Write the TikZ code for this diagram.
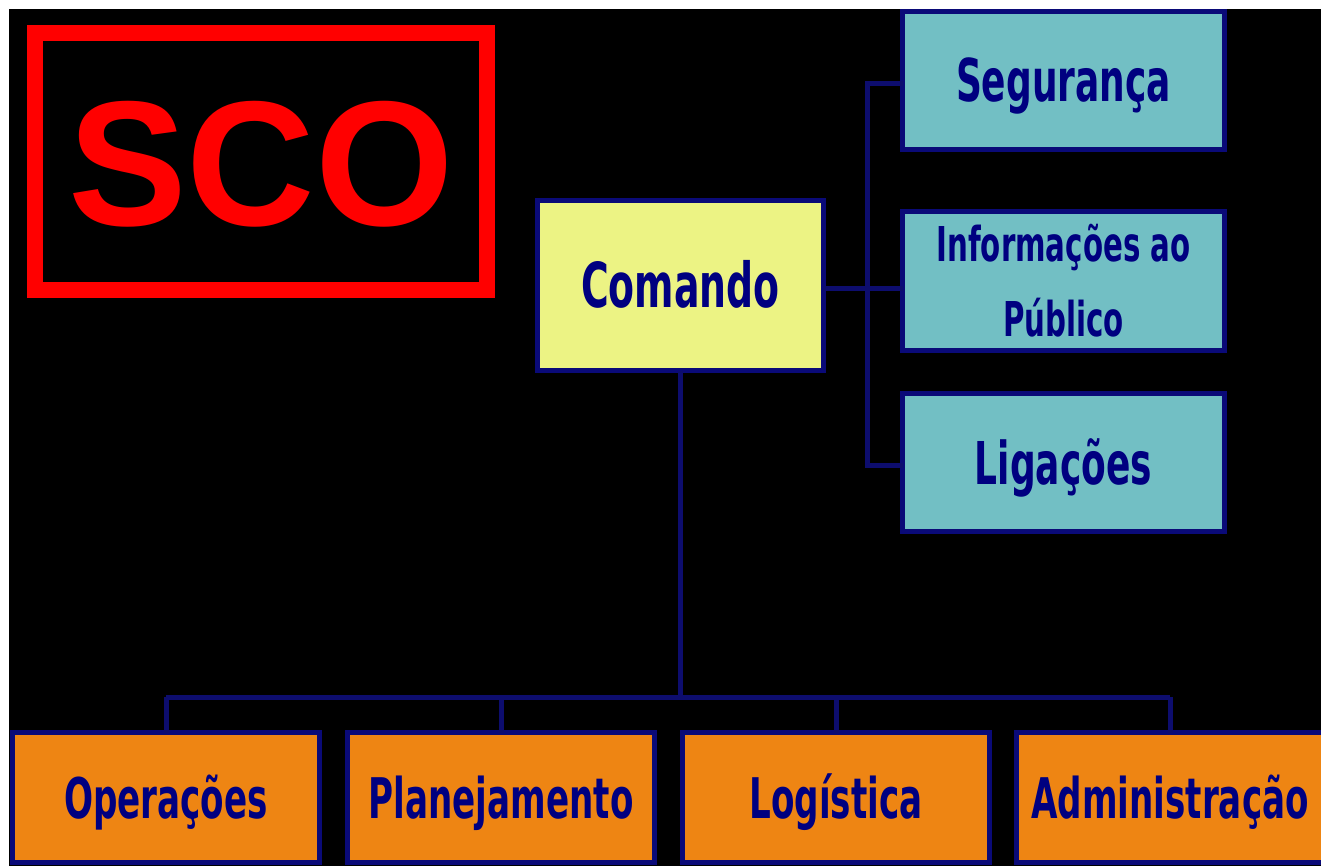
\documentclass[tikz,border=0pt]{standalone}
\usepackage{fontspec}
\setmainfont{DejaVu Sans}
\newfontfamily\boxfont{DejaVu Sans}[FakeStretch=0.61]
\newfontfamily\scofont{Liberation Sans}
\definecolor{navytext}{HTML}{000080}
\definecolor{bordercol}{HTML}{0A0A78}
\definecolor{linecol}{HTML}{0D0D6E}
\definecolor{cyanfill}{HTML}{72BFC4}
\definecolor{yellowfill}{HTML}{ECF384}
\definecolor{orangefill}{HTML}{EE8513}
\definecolor{scored}{HTML}{FF0000}
\tikzset{
  basebox/.style={draw=bordercol, line width=5pt, inner sep=0pt, outer sep=0pt,
    text=navytext, text depth=0pt},
  cmdbox/.style={basebox, fill=yellowfill, minimum width=286pt, minimum height=170pt,
    font=\boxfont\bfseries\fontsize{62}{62}\selectfont, text height=45pt},
  staffbox/.style={basebox, fill=cyanfill, minimum width=322pt, minimum height=138pt,
    font=\boxfont\bfseries\fontsize{59}{59}\selectfont, text height=43pt},
  secbox/.style={basebox, fill=orangefill, minimum width=307pt, minimum height=130pt,
    font=\boxfont\bfseries\fontsize{56}{56}\selectfont, text height=41pt},
  conn/.style={draw=linecol, line width=5pt},
  scoframe/.style={draw=scored, line width=16pt, inner sep=0pt, outer sep=0pt,
    minimum width=452pt, minimum height=257pt, text=scored,
    font=\scofont\bfseries\fontsize{178}{178}\selectfont, text height=127pt, text depth=0pt}
}
\begin{document}
\begin{tikzpicture}[x=1pt,y=-1pt]
\useasboundingbox (0,0) rectangle (1321,866);
\fill[white] (0,0) rectangle (1321,866);
\fill[black] (9,9) rectangle (1321,866);
\clip (0,0) rectangle (1321,866);

\node[scoframe] (sco) at (261,162) {SCO};

\node[cmdbox] (com) at (680.5,285.5) {Comando};

\node[staffbox] (seg) at (1063.5,80.5) {Segurança};
\node[staffbox, text height=, text depth=, align=center,
  font=\boxfont\bfseries\fontsize{48}{75}\selectfont] (info) at (1063.5,281) {Informações ao\\Público};
\node[staffbox] (lig) at (1063.5,462.5) {Ligações};

\node[secbox] (op) at (166,797.5) {Operações};
\node[secbox] (pl) at (501,797.5) {Planejamento};
\node[secbox] (lo) at (836,797.5) {Logística};
\node[secbox] (ad) at (1170,797.5) {Administração};

\coordinate (rb) at (867,0);
\coordinate (bb) at (0,697);

\draw[conn] ([yshift=-3pt]seg.west) -- ([yshift=-3pt]seg.west -| rb) -- ([yshift=-3pt]lig.west -| rb) -- ([yshift=-3pt]lig.west);
\draw[conn] ([yshift=-3pt]com.east) -- ([yshift=-3pt]com.east -| info.west);
\draw[conn] (com.south) -- (com.south |- bb);
\draw[conn] (op.north |- bb) -- (ad.north |- bb);
\foreach \n in {op,pl,lo,ad} \draw[conn] (\n.north |- bb) -- (\n.north);
\end{tikzpicture}
\end{document}
